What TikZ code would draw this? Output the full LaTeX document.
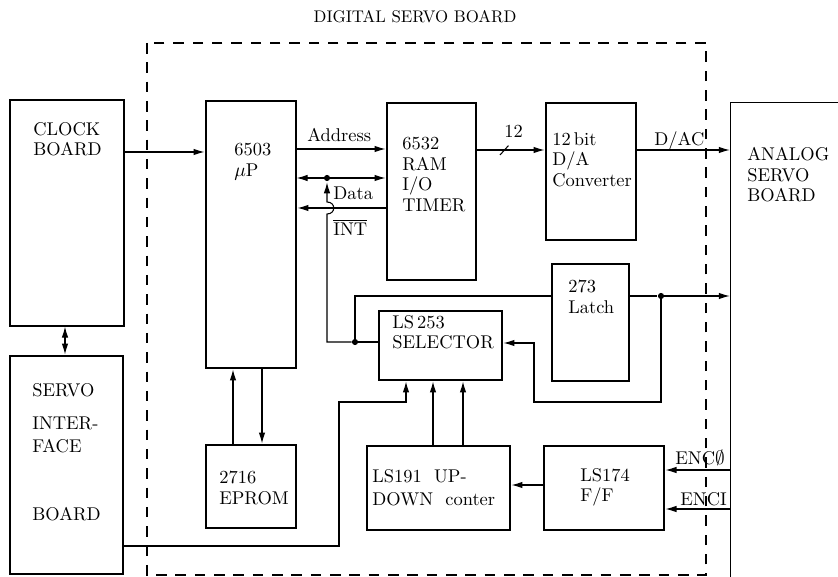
\documentclass[tikz,border=0pt]{standalone}
\usepackage{amsmath,amssymb}
\usetikzlibrary{positioning,arrows.meta,fit}

\begin{document}
\begin{tikzpicture}[x=0.02cm,y=-0.02cm,>={Latex[length=2.2mm,width=1.3mm]},
  blk/.style={draw,line width=0.7pt,inner sep=0pt},
  lbl/.style={inner sep=0pt,anchor=north west,align=left,font=\fontsize{10.5}{11.7}\selectfont},
  wire/.style={line width=0.6pt,shorten >=0.5pt},
  jdot/.style={circle,fill,inner sep=0pt,minimum size=3.5pt}]
\useasboundingbox (0,0) rectangle (838,577);

% digital servo board outline
\draw[line width=0.8pt,dash pattern=on 6pt off 5pt] (147,43) rectangle (706,575);
\node[lbl,anchor=north,font=\fontsize{9.6}{11}\selectfont] (title) at (415,10) {DIGITAL SERVO BOARD};

% blocks
\node[blk,fit={(10,100) (124,326)}] (clock) {};
\node[blk,fit={(10,356) (123,574)}] (sib) {};
\node[blk,fit={(206,101) (296,368)}] (cpu) {};
\node[blk,fit={(387,103) (476,280)}] (riot) {};
\node[blk,fit={(546,103) (636,240)}] (dac) {};
\node[inner sep=0pt,fit={(731,103) (838,577)}] (asb) {};
\draw[line width=0.7pt] (asb.north east) -- (asb.north west) -- (asb.south west);
\node[blk,fit={(552,264) (629,381)}] (latch) {};
\node[blk,fit={(379,311) (502,380)}] (sel) {};
\node[blk,fit={(206,445) (296,528)}] (eprom) {};
\node[blk,fit={(367,446) (510,530)}] (cnt) {};
\node[blk,fit={(544,446) (664,530)}] (ff) {};

% block texts
\node[lbl] (clockt) at (33,122) {CLOCK\\BOARD};
\node[lbl] (sibt1) at (32,383) {SERVO};
\node[lbl] (sibt2) at (32,417) {INTER-\\[1.3pt]FACE};
\node[lbl] (sibt3) at (32,507) {BOARD};
\node[lbl] (cput) at (234,143) {6503\\$\mu$P};
\node[lbl] (riott) at (402,137) {6532\\RAM\\I/O\\TIMER};
\node[lbl] (dact) at (552,132) {12\,bit\\D/A\\Converter};
\node[lbl] (asbt) at (747,147) {ANALOG\\SERVO\\BOARD};
\node[lbl] (latcht) at (568,280) {273\\Latch};
\node[lbl] (selt) at (392,315) {LS\,253\\SELECTOR};
\node[lbl] (cntt) at (372,469) {LS191~ UP-\\[1.3pt]DOWN~ conter};
\node[lbl] (epromt) at (219,471) {2716\\EPROM};
\node[lbl] (fft) at (580,468) {LS174\\F/F};

% buses
\draw[wire,->] (clock.east |- 0,152) -- (cpu.west |- 0,152);
\draw[wire,<->] (clock.south -| 65,0) -- (sib.north -| 65,0);
\draw[wire,->] (cpu.east |- 0,149) -- (riot.west |- 0,149);
\node[lbl] (addrt) at (307,128) {Address};
\draw[wire,<->] (cpu.east |- 0,178) -- (riot.west |- 0,178);
\node[jdot] (dj) at (327,178) {};
\node[lbl] (datat) at (333,187) {Data};
\draw[wire,->] (riot.west |- 0,208) -- (cpu.east |- 0,208);
\node[lbl] (intt) at (333,219) {$\overline{\mbox{INT}}$};
\draw[wire,->] (riot.east |- 0,150) -- (dac.west |- 0,150);
\draw[wire] (500,155) -- (509,145);
\node[lbl] (bust) at (504,125) {12};
\draw[wire,->] (dac.east |- 0,150) -- (asb.west |- 0,150);
\node[lbl] (dact2) at (654,131) {D/AC};

% selector and latch
\node[jdot] (sj) at (355,342) {};
\draw[wire,->] (sj) -- (327,342) -- (327,214) .. controls (336,214) and (336,202) .. (327,202) -- (dj.south);
\draw[wire] (sj) -- (sel.west |- sj);
\draw[wire] (sj) -- (sj |- 0,296) -- (latch.west |- 0,296);
\node[jdot] (lj) at (661,296) {};
\draw[wire] (latch.east |- lj) -- (lj);
\draw[wire,->] (lj) -- (asb.west |- lj);
\draw[wire,->] (lj) -- (661,402) -- (534,402) -- (534,343) -- (sel.east |- 0,343);

% eprom
\draw[wire,->] (eprom.north -| 233,0) -- (cpu.south -| 233,0);
\draw[wire,->] (cpu.south -| 262,0) -- (eprom.north -| 262,0);

% selector inputs
\draw[wire,->] (sib.east |- 0,546) -- (339,546) -- (339,402) -- (406,402) -- (sel.south -| 406,0);
\draw[wire,->] (cnt.north -| 433,0) -- (sel.south -| 433,0);
\draw[wire,->] (cnt.north -| 463,0) -- (sel.south -| 463,0);
\draw[wire,->] (ff.west |- 0,485) -- (cnt.east |- 0,485);

% encoder
\draw[wire,->] (asb.west |- 0,470) -- (ff.east |- 0,470);
\node[lbl] (enc0t) at (675,450) {ENC$\emptyset$};
\draw[wire,->] (asb.west |- 0,509) -- (ff.east |- 0,509);
\node[lbl] (enc1t) at (680,492) {ENCI};
\end{tikzpicture}
\end{document}
